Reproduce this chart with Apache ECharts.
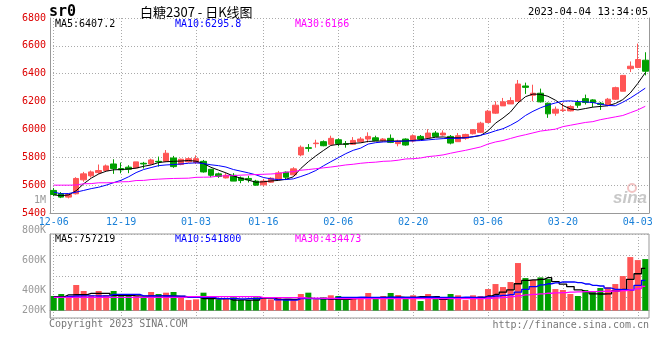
<!DOCTYPE html>
<html><head><meta charset="utf-8">
<script src="https://cdn.jsdelivr.net/npm/echarts@6/dist/echarts.min.js"></script>
<style>html,body{margin:0;padding:0;background:#fff}#c{width:660px;height:360px}</style>
</head><body><div id="c"></div>
<script>
const dates = ['12-06','12-07','12-08','12-09','12-12','12-13','12-14','12-15','12-16','12-19','12-20','12-21','12-22','12-23','12-26','12-27','12-28','12-29','12-30',
'01-03','01-04','01-05','01-06','01-09','01-10','01-11','01-12','01-13','01-16','01-17','01-18','01-19','01-20','01-30','01-31',
'02-01','02-02','02-03','02-06','02-07','02-08','02-09','02-10','02-13','02-14','02-15','02-16','02-17','02-20','02-21','02-22','02-23','02-24','02-27','02-28',
'03-01','03-02','03-03','03-06','03-07','03-08','03-09','03-10','03-13','03-14','03-15','03-16','03-17','03-20','03-21','03-22','03-23','03-24','03-27','03-28','03-29','03-30','03-31',
'04-03','04-04'];
const labelDates = ['12-06','12-19','01-03','01-16','02-06','02-20','03-06','03-20','04-03'];

const opens  = [5562,5540,5514,5538,5638,5667,5690,5705,5752,5719,5729,5724,5757,5752,5771,5771,5795,5748,5767,5762,5771,5714,5681,5652,5671,5652,5648,5629,5602,5621,5640,5693,5674,5817,5869,5898,5912,5893,5926,5898,5893,5912,5931,5940,5919,5936,5898,5931,5917,5950,5940,5974,5960,5950,5912,5936,5969,5979,6050,6117,6169,6183,6202,6312,6245,6260,6188,6117,6136,6133,6193,6221,6212,6188,6174,6217,6274,6436,6445,6497];
const closes = [5533,5514,5533,5648,5681,5695,5705,5738,5719,5710,5714,5767,5752,5781,5767,5829,5733,5786,5790,5790,5695,5671,5662,5671,5629,5633,5638,5600,5629,5650,5688,5657,5717,5872,5864,5902,5883,5936,5898,5893,5921,5931,5950,5921,5931,5907,5917,5888,5954,5931,5974,5950,5974,5902,5955,5964,5998,6045,6131,6174,6198,6207,6326,6302,6260,6198,6112,6145,6140,6164,6174,6193,6193,6179,6217,6300,6388,6454,6502,6418];
const lows   = [5521,5507,5505,5533,5624,5655,5681,5700,5681,5685,5686,5724,5719,5748,5733,5767,5724,5743,5762,5752,5690,5657,5652,5648,5629,5614,5619,5595,5593,5617,5633,5640,5669,5807,5840,5869,5879,5890,5879,5869,5890,5907,5907,5917,5912,5902,5879,5883,5907,5926,5936,5950,5955,5893,5912,5926,5964,5974,6045,6112,6169,6183,6200,6255,6202,6193,6083,6098,6126,6130,6155,6179,6160,6140,6167,6212,6274,6412,6440,6388];
const highs  = [5579,5550,5535,5657,5695,5705,5748,5748,5786,5762,5743,5767,5767,5790,5805,5852,5810,5790,5800,5814,5781,5714,5690,5686,5686,5662,5667,5638,5645,5657,5702,5698,5729,5885,5895,5926,5921,5955,5936,5917,5945,5945,5979,5955,5938,5964,5926,5936,5964,5960,6002,5988,5993,5960,5974,5969,6002,6055,6140,6202,6226,6231,6355,6336,6321,6293,6193,6164,6190,6174,6212,6250,6217,6197,6226,6307,6390,6488,6616,6554];

const ma5  = [5530,5524,5530,5560,5610,5650,5680,5700,5710,5712,5716,5722,5735,5745,5762,5768,5771,5773,5777,5772,5755,5728,5708,5688,5665,5650,5636,5621,5624,5630,5634,5642,5660,5720,5768,5810,5848,5885,5893,5895,5900,5904,5914,5916,5917,5917,5916,5917,5921,5926,5935,5944,5946,5940,5940,5941,5947,5956,5990,6045,6082,6125,6190,6235,6254,6252,6238,6210,6172,6147,6140,6150,6160,6165,6170,6186,6214,6262,6330,6407];
const ma10 = [5550,5538,5540,5550,5562,5575,5585,5600,5618,5635,5660,5690,5712,5726,5740,5745,5748,5752,5757,5760,5755,5746,5740,5730,5712,5700,5688,5674,5655,5645,5640,5640,5645,5662,5681,5705,5738,5768,5797,5826,5850,5866,5895,5905,5910,5912,5915,5917,5918,5920,5925,5930,5934,5936,5936,5940,5948,5958,5972,5990,6005,6030,6060,6100,6130,6155,6175,6190,6203,6205,6200,6198,6193,6182,6172,6170,6195,6225,6260,6296];
const ma30 = [5600,5600,5600,5601,5610,5611,5617,5617,5618,5624,5625,5633,5634,5640,5643,5646,5648,5649,5650,5656,5657,5658,5665,5667,5668,5672,5674,5676,5678,5680,5684,5693,5697,5707,5712,5718,5724,5730,5737,5745,5750,5757,5762,5765,5771,5773,5779,5788,5790,5795,5805,5810,5817,5829,5840,5850,5862,5874,5895,5910,5920,5935,5950,5962,5975,5988,5995,6002,6020,6030,6040,6050,6056,6070,6080,6090,6100,6120,6140,6166];

const volumes = [260,296,237,458,350,273,350,278,350,278,260,255,224,332,296,320,332,224,188,200,320,248,200,212,237,188,188,237,237,200,237,200,188,296,320,200,237,273,260,200,237,212,314,212,260,314,278,224,273,170,296,237,212,296,273,188,273,260,385,475,421,511,852,582,547,594,564,385,368,296,260,368,350,404,421,475,618,959,905,923].map(v => v * 1000);
const volMa5  = [248,248,282,284,286,308,306,308,272,274,270,262,258,262,264,260,258,255,236,238,212,214,210,212,188,190,186,188,224,222,200,202,198,218,216,212,210,205,200,202,215,230,228,232,236,234,238,236,234,248,246,250,200,230,232,228,230,232,260,290,330,372,480,540,548,560,590,520,475,430,370,340,300,296,300,350,380,560,660,757].map(v => v * 1000);
const volMa10 = [236,236,255,260,262,262,260,262,288,290,290,288,262,260,262,260,258,258,238,236,236,234,214,212,212,210,212,212,230,228,190,188,188,212,212,214,212,214,236,234,236,238,236,234,236,238,236,234,236,236,238,236,234,236,236,238,236,240,245,260,270,285,330,380,430,460,480,495,512,512,500,476,452,440,400,380,375,368,452,542].map(v => v * 1000);
const volMa30 = [236,236,236,237,236,236,237,236,236,236,237,236,236,236,237,236,236,236,248,248,248,248,249,248,248,248,248,248,230,230,230,230,230,229,222,222,220,216,212,212,212,212,213,212,212,212,212,212,213,212,212,212,212,212,212,213,212,214,220,225,235,250,265,280,290,300,310,315,322,330,335,338,340,344,346,350,358,370,395,434].map(v => v * 1000);

const volTickLabels = ['1M','800K','600K','400K','200K'];
const priceLegend = ['MA5:6407.2','MA10:6295.8','MA30:6166'];
const volLegend = ['MA5:757219','MA10:541800','MA30:434473'];

const UP = '#ff5555', DOWN = '#00a000';
const MONO = "'DejaVu Sans Mono', monospace";
const isLabel = (i, v) => labelDates.indexOf(dates[i]) >= 0;
const dotted = { color: '#aaa', type: [1, 2], width: 1 };

const candleData = opens.map((o, i) => [o, closes[i], lows[i], highs[i]]);
const volData = volumes.map((v, i) => ({ value: v, itemStyle: { color: closes[i] >= opens[i] ? UP : DOWN } }));

const lineColors = ['#000000', '#0000ff', '#ff00ff'];
function txt(x, y, text, fill, opt) {
  return Object.assign({ type: 'text', x: x, y: y, silent: true,
    style: Object.assign({ text: text, fill: fill, font: '10px ' + MONO, align: 'left', verticalAlign: 'middle' }, opt || {}) });
}
const graphics = [
  txt(49, 12, 'sr0', '#000', { font: 'bold 15px ' + MONO }),
  txt(140, 12, '白糖2307 - 日K线图', '#000', { font: "13px 'Noto Sans CJK SC'" }),
  txt(648, 12, '2023-04-04 13:34:05', '#000', { align: 'right', font: '10.5px ' + MONO }),
  txt(55, 24, priceLegend[0], lineColors[0]),
  txt(175, 24, priceLegend[1], lineColors[1]),
  txt(295, 24, priceLegend[2], lineColors[2]),
  txt(55, 239, volLegend[0], lineColors[0]),
  txt(175, 239, volLegend[1], lineColors[1]),
  txt(295, 239, volLegend[2], lineColors[2]),
  txt(49, 324, 'Copyright 2023 SINA.COM', '#777'),
  txt(649, 325, 'http://finance.sina.com.cn', '#777', { align: 'right' }),
  txt(647, 198, 'sina', '#c8c8c8', { align: 'right', font: 'italic bold 17px Arial' }),
  { type: 'circle', silent: true, shape: { cx: 632, cy: 188, r: 4 }, style: { fill: 'none', stroke: '#f2c4c4', lineWidth: 2 } }
];
const volLabelY = [200.7, 230.7, 260.7, 290.7, 310.7];
volTickLabels.forEach((t, k) => graphics.push(txt(46, volLabelY[k], t, '#999', { align: 'right' })));

const maSeries = [ma5, ma10, ma30].map((d, k) => ({
  type: 'line', data: d, xAxisIndex: 0, yAxisIndex: 0, symbol: 'none', z: 5,
  lineStyle: { color: lineColors[k], width: 1 }, silent: true
}));
const volMaSeries = [volMa5, volMa10, volMa30].map((d, k) => ({
  type: 'line', data: d, xAxisIndex: 1, yAxisIndex: 2, symbol: 'none', z: 5, step: 'middle',
  lineStyle: { color: lineColors[k], width: 1.3 }, silent: true
}));

const chart = echarts.init(document.getElementById('c'), null, { renderer: 'canvas' });
chart.setOption({
  animation: false,
  backgroundColor: '#fff',
  grid: [
    { left: 50, top: 18, width: 599, height: 195 },
    { left: 50, top: 234, width: 599, height: 84, show: true, borderColor: '#999', borderWidth: 1 }
  ],
  xAxis: [
    { type: 'category', gridIndex: 0, data: dates, boundaryGap: true,
      axisLine: { lineStyle: { color: '#999' } }, axisTick: { show: false },
      axisLabel: { interval: isLabel, color: '#1a80d8', fontFamily: MONO, fontSize: 10, margin: 4 },
      splitLine: { show: true, interval: isLabel, alignWithLabel: true, lineStyle: dotted } },
    { type: 'category', gridIndex: 1, data: dates, boundaryGap: true,
      axisLine: { lineStyle: { color: '#999' } }, axisTick: { show: false }, axisLabel: { show: false },
      splitLine: { show: true, interval: isLabel, alignWithLabel: true, lineStyle: dotted } }
  ],
  yAxis: [
    { type: 'value', gridIndex: 0, min: 5400, max: 6800, interval: 200,
      axisLine: { show: true, lineStyle: { color: '#999' } }, axisTick: { show: false },
      axisLabel: { color: '#dd0000', fontFamily: MONO, fontSize: 10, margin: 4, formatter: v => String(v) },
      splitLine: { show: true, lineStyle: dotted } },
    { type: 'value', gridIndex: 0, position: 'right', min: 0, max: 1,
      axisLine: { show: true, lineStyle: { color: '#999' } }, axisTick: { show: false },
      axisLabel: { show: false }, splitLine: { show: false } },
    { type: 'value', gridIndex: 1, min: -134640, max: 1373328,
      axisLine: { show: true, lineStyle: { color: '#999' } }, axisTick: { show: false },
      axisLabel: { show: false }, splitLine: { show: false } },
    { type: 'value', gridIndex: 1, min: 0, max: 4, interval: 1, position: 'right',
      axisLine: { show: false }, axisTick: { show: false }, axisLabel: { show: false },
      splitLine: { show: true, lineStyle: dotted } }
  ],
  series: [
    { type: 'candlestick', data: candleData, xAxisIndex: 0, yAxisIndex: 0, barWidth: 6, z: 3,
      itemStyle: { color: UP, color0: DOWN, borderColor: UP, borderColor0: DOWN, borderWidth: 1 } },
    ...maSeries,
    { type: 'bar', data: volData, xAxisIndex: 1, yAxisIndex: 2, barWidth: 6, z: 3 },
    ...volMaSeries
  ],
  graphic: graphics
});
</script></body></html>
